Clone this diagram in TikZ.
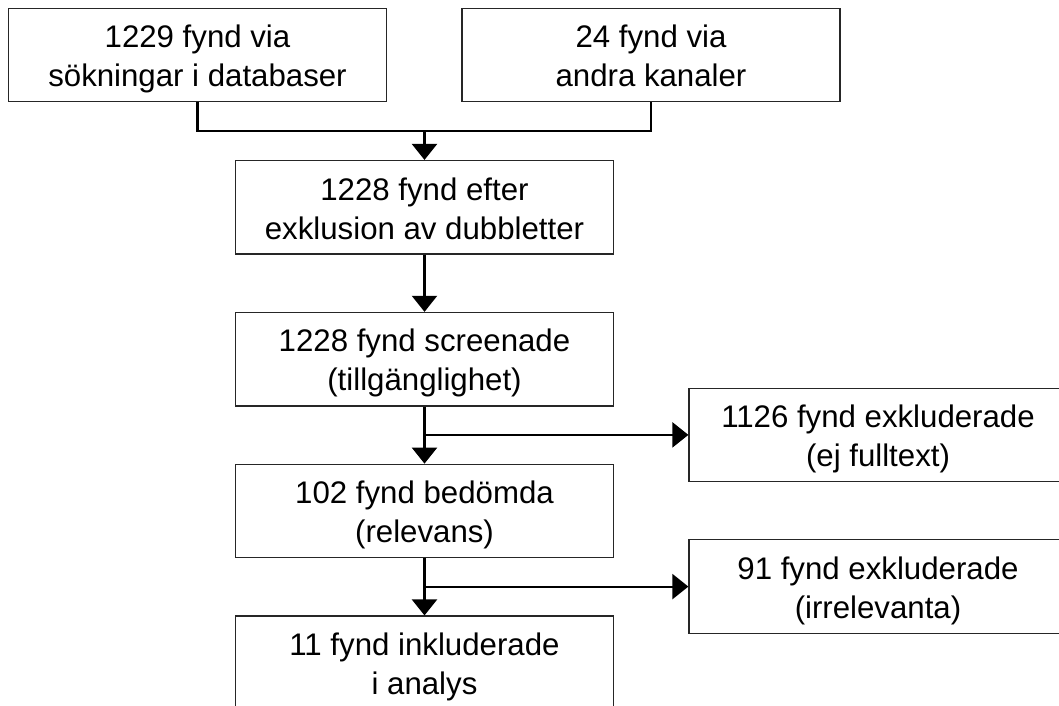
\documentclass[tikz,border=0pt]{standalone}
\usepackage{fontspec}
\setmainfont{Liberation Sans}
\usetikzlibrary{arrows.meta,positioning}
\newcommand\boxfont{\fontsize{17.76pt}{22.2pt}\selectfont}

\begin{document}
\begin{tikzpicture}
  [x=0.2mm,y=-0.2mm,>={Triangle[length=3.2mm,width=5mm]},
   every node/.style={draw=black!85,line width=.7pt,minimum width=75.6mm,
     minimum height=18.7mm,inner sep=0pt,align=center,font=\boxfont,
     text height=12.9mm,text depth=0.2mm}]
  \useasboundingbox (0,0) rectangle (1059,705);
  \node (n1) at (197.5,55)  {1229 fynd via\\sökningar i databaser};
  \node (n2) at (651,55)    {24 fynd via\\andra kanaler};
  \node (n3) at (424.5,207.3) {1228 fynd efter\\exklusion av dubbletter};
  \node (n4) at (424.5,359.2) {1228 fynd screenade\\(tillgänglighet)};
  \node (n5) at (878,434.9) {1126 fynd exkluderade\\(ej fulltext)};
  \node (n6) at (424.5,511)   {102 fynd bedömda\\(relevans)};
  \node (n7) at (878,586.6) {91 fynd exkluderade\\(irrelevanta)};
  \node (n8) at (424.5,662.8) {11 fynd inkluderade\\i analys};

  \begin{scope}[line width=1.25pt]
    \coordinate (j0) at (424.5,131);
    \draw (n1) |- (j0) -| (n2);
    \draw[->] (j0) -- (n3);
    \coordinate (j1) at (n4.south |- n5.west);
    \coordinate (j2) at (n6.south |- n7.west);
    \foreach \from/\to in {n3/n4,n4/n6,n6/n8,j1/n5,j2/n7}
      \draw[->] (\from) -- (\to);
  \end{scope}
\end{tikzpicture}
\end{document}
